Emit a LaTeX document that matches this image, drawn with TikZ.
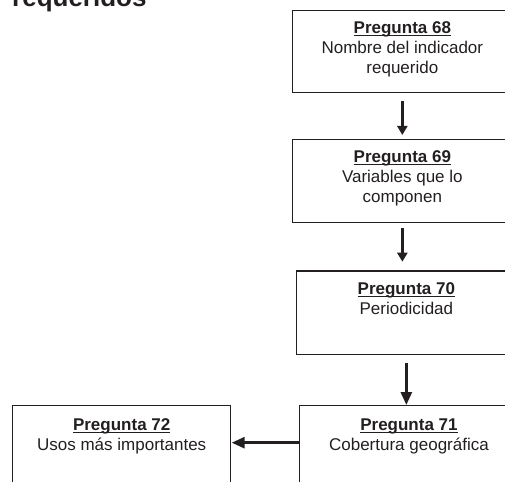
\documentclass[tikz,border=0pt]{standalone}
\usepackage{fontspec}
\setmainfont{Liberation Sans}
\usetikzlibrary{arrows.meta}
\definecolor{ink}{HTML}{231F20}
\newcommand\myul[1]{\setbox0\hbox{#1}\rlap{\rule[-2.4pt]{\wd0}{1.1pt}}\box0}
\begin{document}
\begin{tikzpicture}[x=1pt,y=-1pt,
  box/.style={draw=ink,line width=1.4pt,inner sep=0pt,outer sep=0pt,anchor=north west},
  txt/.style={align=center,inner sep=0pt,anchor=north,font=\fontsize{17}{20}\selectfont,text=ink},
  arr/.style={draw=ink,line width=2.6pt,-{Triangle[length=9pt,width=10pt]}},
  bigarr/.style={draw=ink,line width=2.7pt,-{Triangle[length=13pt,width=11pt]}}]
\useasboundingbox (0,0) rectangle (505,481);
\clip (0,0) rectangle (505,481);
\node[font=\fontsize{26}{30}\selectfont\bfseries,text=ink,anchor=base west,inner sep=0pt] (title) at (12,7) {requeridos};
% boxes
\node[box,minimum width=219.3pt,minimum height=82pt] (b68) at (292.7,10.7) {};
\node[box,minimum width=219.3pt,minimum height=82.8pt] (b69) at (292.7,139.5) {};
\node[box,minimum width=219.3pt,minimum height=83.3pt] (b70) at (296.7,271) {};
\node[box,minimum width=219.3pt,minimum height=83pt] (b71) at (299.3,405.7) {};
\node[box,minimum width=218pt,minimum height=83pt] (b72) at (12.7,405.7) {};
% texts
\node[txt] (t68) at ([yshift=-10.6pt]b68.north) {\myul{\textbf{Pregunta 68}}\\Nombre del indicador\\requerido};
\node[txt] (t69) at ([yshift=-11.2pt]b69.north) {\myul{\textbf{Pregunta 69}}\\Variables que lo\\componen};
\node[txt] (t70) at ([yshift=-11.2pt]b70.north) {\myul{\textbf{Pregunta 70}}\\Periodicidad};
\node[txt] (t71) at ([yshift=-12.8pt]b71.north) {\myul{\textbf{Pregunta 71}}\\Cobertura geográfica};
\node[txt] (t72) at ([yshift=-12.8pt]b72.north) {\myul{\textbf{Pregunta 72}}\\Usos más importantes};
% arrows
\draw[arr,shorten <=8.5pt,shorten >=4.5pt] (b68.south) -- (b69.north);
\draw[arr,shorten <=6pt,shorten >=9.3pt] (b69.south) -- (b69.south |- b70.north);
\draw[bigarr,shorten <=9pt,shorten >=0.7pt] (b70.south) -- (b70.south |- b71.north);
\draw[bigarr,shorten >=1pt] ([yshift=4.5pt]b71.west) -- ([yshift=4.5pt]b72.east);
\end{tikzpicture}
\end{document}
